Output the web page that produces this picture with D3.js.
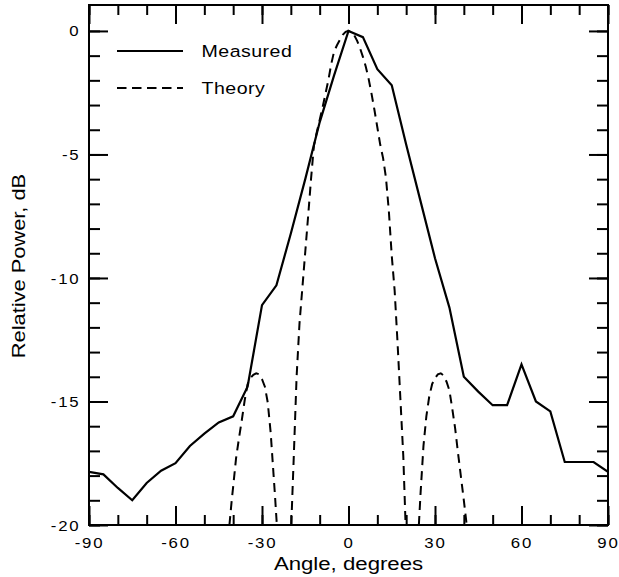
<!DOCTYPE html>
<html><head><meta charset="utf-8">
<script src="https://cdn.jsdelivr.net/npm/d3@7"></script>
<style>body{margin:0;background:#fff} svg{display:block}</style>
</head><body><svg id="c" width="619" height="577"></svg>
<script>
// ---- data ----
const measuredAngles = [-90,-85,-80,-75,-70,-65,-60,-55,-50,-45,-40,-35,-30,-25,-20,-15,-10,-5,0,5,10,15,20,25,30,35,40,45,50,55,60,65,70,75,80,85,90];
const measuredDb = [-17.85,-17.95,-18.5,-19.0,-18.3,-17.8,-17.5,-16.8,-16.3,-15.85,-15.6,-14.4,-11.1,-10.3,-8.2,-6.0,-3.7,-1.8,0,-0.25,-1.55,-2.2,-4.6,-6.9,-9.2,-11.2,-14.0,-14.6,-15.15,-15.15,-13.5,-15.0,-15.4,-17.45,-17.45,-17.45,-17.85];

// theory: three lobes, null separates segments
const theoryAngles = [
  -41.3,-40.5,-40,-39,-38,-37,-36,-35,-34,-33,-32,-31,-30,-29,-28,-27,-26,-25.5,-24.85,
  -22,
  -19.85,-19,-18,-17,-16,-15,-14,-13,-12,-11,-10,-9,-8,-7,-6,-5,-4,-3,-2,-1,0,1,2,3,4,5,6,7,8,9,10,11,12,13,14,15,16,17,18,19,19.8,
  22,
  24.4,25,26,27,28,29,30,31,32,33,34,35,36,37,38,39,40,41
];
const theoryDb = [
  -20,-19.0,-18.45,-17.3,-16.5,-15.75,-14.95,-14.3,-14.05,-13.92,-13.86,-13.9,-14.1,-14.4,-15.05,-16.25,-17.95,-18.8,-20,
  null,
  -20,-17.3,-14.0,-11.85,-10.4,-8.95,-7.5,-6.0,-4.65,-4.1,-3.6,-3.1,-2.55,-2.0,-1.35,-0.83,-0.58,-0.36,-0.16,-0.04,0,-0.05,-0.18,-0.4,-0.7,-1.05,-1.45,-1.95,-2.55,-3.2,-3.9,-4.6,-5.15,-5.95,-7.3,-9.1,-10.5,-12.6,-14.9,-17.2,-20,
  null,
  -20,-18.7,-16.8,-15.6,-14.8,-14.3,-14.05,-13.9,-13.86,-13.95,-14.2,-14.55,-15.3,-16.1,-17.1,-18.05,-19.0,-20
];

const xTickValues = [-90,-60,-30,0,30,60,90];
const xTickLabels = ["-90","-60","-30","0","30","60","90"];
const yTickValues = [0,-5,-10,-15,-20];
const yTickLabels = ["0","-5","-10","-15","-20"];
const legendLabels = ["Measured","Theory"];
const xTitle = "Angle, degrees";
const yTitle = "Relative Power, dB";

// ---- layout ----
const L = 89, R = 608, T = 5, B = 525;
const FONT = "'Liberation Sans', Arial, Helvetica, sans-serif";
const SX = 1.2;

const svg = d3.select("#c");
const x = d3.scaleLinear().domain([-90, 90]).range([L, R]);
const y = d3.scaleLinear().domain([-20, 1.05]).range([B, T]);

svg.append("defs").append("clipPath").attr("id","clip")
  .append("rect").attr("x", L).attr("y", T).attr("width", R - L).attr("height", B - T);

// minor ticks
const xMinor = d3.range(-90, 91, 10);
const yMinor = d3.range(-20, 1, 1);
function styleAxis(g){
  g.select(".domain").remove();
  g.selectAll(".tick line").attr("stroke","#000").attr("stroke-width",2);
}
svg.append("g").attr("transform",`translate(0,${B})`)
  .call(d3.axisBottom(x).tickValues(xMinor).tickSize(-10).tickFormat("")).call(styleAxis);
svg.append("g").attr("transform",`translate(0,${T})`)
  .call(d3.axisTop(x).tickValues(xMinor).tickSize(-10).tickFormat("")).call(styleAxis);
svg.append("g").attr("transform",`translate(${L},0)`)
  .call(d3.axisLeft(y).tickValues(yMinor).tickSize(-11).tickFormat("")).call(styleAxis);
svg.append("g").attr("transform",`translate(${R},0)`)
  .call(d3.axisRight(y).tickValues(yMinor).tickSize(-11).tickFormat("")).call(styleAxis);

// major ticks
const gxB = svg.append("g").attr("transform",`translate(0,${B})`)
  .call(d3.axisBottom(x).tickValues(xTickValues).tickSize(-19).tickFormat((d,i)=>xTickLabels[i])).call(styleAxis);
svg.append("g").attr("transform",`translate(0,${T})`)
  .call(d3.axisTop(x).tickValues(xTickValues).tickSize(-19).tickFormat("")).call(styleAxis);
const gyL = svg.append("g").attr("transform",`translate(${L},0)`)
  .call(d3.axisLeft(y).tickValues(yTickValues).tickSize(-19).tickFormat((d,i)=>yTickLabels[i])).call(styleAxis);
svg.append("g").attr("transform",`translate(${R},0)`)
  .call(d3.axisRight(y).tickValues(yTickValues).tickSize(-19).tickFormat("")).call(styleAxis);

gxB.selectAll(".tick text")
  .attr("font-family", FONT).attr("font-size", 14).attr("fill","#000")
  .attr("letter-spacing", 1.5)
  .attr("y", 23).attr("dy", 0).attr("transform", `scale(${SX},1)`);
gyL.selectAll(".tick text")
  .attr("font-family", FONT).attr("font-size", 14).attr("fill","#000")
  .attr("letter-spacing", 1.5)
  .attr("x", -8.5/SX).attr("dy","0.36em").attr("transform", `scale(${SX},1)`);

// frame
svg.append("rect").attr("x", L).attr("y", T).attr("width", R - L).attr("height", B - T)
  .attr("fill","none").attr("stroke","#000").attr("stroke-width",2);

// data lines
const measured = measuredAngles.map((a,i)=>[a, measuredDb[i]]);
const theory = theoryAngles.map((a,i)=>[a, theoryDb[i]]);
const line = d3.line().defined(d => d[1] !== null).x(d => x(d[0])).y(d => y(d[1]));

const plot = svg.append("g").attr("clip-path","url(#clip)");
plot.append("path").datum(theory).attr("d", line)
  .attr("fill","none").attr("stroke","#000").attr("stroke-width",2)
  .attr("stroke-dasharray","9,6");
plot.append("path").datum(measured).attr("d", line)
  .attr("fill","none").attr("stroke","#000").attr("stroke-width",2.2)
  .attr("stroke-linejoin","miter");

// legend
const legY = [51, 88];
const leg = svg.append("g");
leg.append("line").attr("x1",117).attr("x2",183).attr("y1",legY[0]).attr("y2",legY[0])
  .attr("stroke","#000").attr("stroke-width",2);
leg.append("line").attr("x1",117).attr("x2",183).attr("y1",legY[1]).attr("y2",legY[1])
  .attr("stroke","#000").attr("stroke-width",2).attr("stroke-dasharray","9.5,5.5");
legendLabels.forEach((t,i)=>{
  leg.append("text").attr("transform",`translate(201.5,${legY[i]+6}) scale(${SX},1)`)
    .attr("font-family", FONT).attr("font-size", 16.3).attr("fill","#000")
    .attr("letter-spacing", 0.4).text(t);
});

// titles
svg.append("text").attr("transform",`translate(${(L+R)/2},570) scale(${SX},1)`)
  .attr("text-anchor","middle").attr("font-family", FONT).attr("font-size", 18.5).attr("fill","#000")
  .text(xTitle);
svg.append("text").attr("transform",`translate(25,${(T+B)/2+1}) rotate(-90) scale(1.18,1)`)
  .attr("text-anchor","middle").attr("font-family", FONT).attr("font-size", 18.5).attr("fill","#000")
  .text(yTitle);
</script></body></html>
